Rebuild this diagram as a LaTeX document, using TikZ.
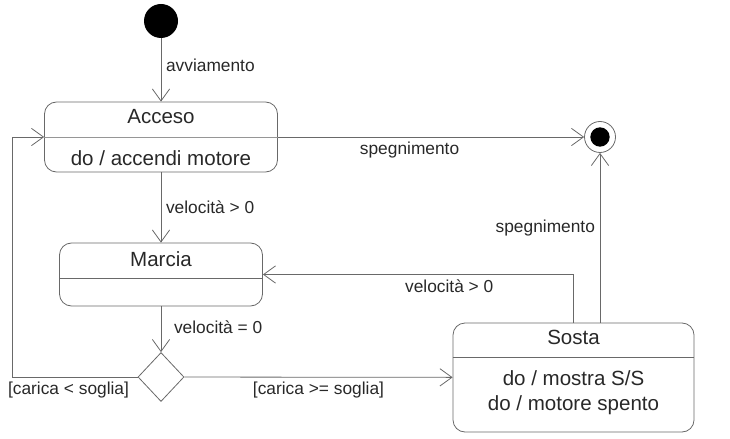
\documentclass[tikz,border=0pt]{standalone}
\usepackage{fontspec}
\setmainfont{Liberation Sans}
\usetikzlibrary{arrows.meta, shapes.geometric, calc}
\definecolor{stEdge}{RGB}{105,105,105}
\definecolor{stText}{RGB}{40,40,40}

\begin{document}
\begin{tikzpicture}[x=0.75pt, y=-0.75pt,
    state/.style={rectangle, draw=stEdge, semithick, rounded corners=9pt, inner sep=0pt},
    stname/.style={font=\fontsize{15.4}{18.5}\selectfont, text=stText, inner sep=0pt},
    sttext/.style={font=\fontsize{15.4}{18.75}\selectfont, text=stText, align=center, inner sep=0pt},
    arr/.style={-{Straight Barb[length=9pt, width=13pt]}, semithick, stEdge},
    lbl/.style={font=\fontsize{13}{15}\selectfont, text=stText, inner sep=3.5pt},
]
\useasboundingbox (0,0) rectangle (730,438);

% ========== pseudo states ==========
\node[circle, fill=black, minimum size=25.5pt, inner sep=0pt] at (161,21) (init) {};
\node[circle, draw=stEdge, semithick, minimum size=23.25pt, inner sep=0pt] at (600,137) (final) {};
\node[circle, fill=black, minimum size=14.5pt, inner sep=0pt] at (final) (finaldot) {};
\node[diamond, draw=stEdge, semithick, minimum width=34.5pt, minimum height=36.75pt, inner sep=0pt] at (161,377) (choice) {};

% ========== Acceso ==========
\node[state, minimum width=174.75pt, minimum height=52.5pt] at (161,137) (acceso) {};
\draw[stEdge!70, semithick] (acceso.west) -- (acceso.east);
\node[stname] at (161,117) (accesoname) {Acceso};
\node[sttext] at (161,158) (accesodo) {do / accendi motore};

% ========== Marcia ==========
\node[state, minimum width=152.25pt, minimum height=47.25pt] at (161,274.5) (marcia) {};
\draw[stEdge, semithick] ([yshift=-2.6pt]marcia.west) -- ([yshift=-2.6pt]marcia.east);
\node[stname] at (161,259) (marcianame) {Marcia};

% ========== Sosta ==========
\node[state, minimum width=180.75pt, minimum height=81.75pt] at (573.5,377.5) (sosta) {};
\draw[stEdge, semithick] ([yshift=15.4pt]sosta.west) -- ([yshift=15.4pt]sosta.east);
\node[stname] at (573.5,337) (sostaname) {Sosta};
\node[sttext] at (573.5,393) (sostado) {do / mostra S/S\\do / motore spento};

% ========== transitions ==========
\draw[arr] (init) -- node[lbl, right, pos=0.42] {avviamento} (acceso);
\draw[arr] (acceso.east) -- node[lbl, below, pos=0.43] {spegnimento} (final);
\draw[arr] (acceso) -- node[lbl, right] {velocità > 0} (marcia);
\draw[arr] (marcia) -- node[lbl, right, xshift=6pt, pos=0.45] {velocità = 0} (choice);
\draw[arr] (choice) -- node[lbl, below] {[carica >= soglia]} (sosta);

% back to Acceso
\coordinate (back) at (12,377);
\draw[arr] (choice.west) -- node[lbl, below, pos=0.55] {[carica < soglia]} (back) |- (acceso.west);

% from Sosta
\draw[arr] (sosta.north) |- node[lbl, below, pos=0.7] {velocità > 0} (marcia.east);
\draw[arr] (final |- sosta.north) -- node[lbl, left, pos=0.56] {spegnimento} (final);

\end{tikzpicture}
\end{document}
